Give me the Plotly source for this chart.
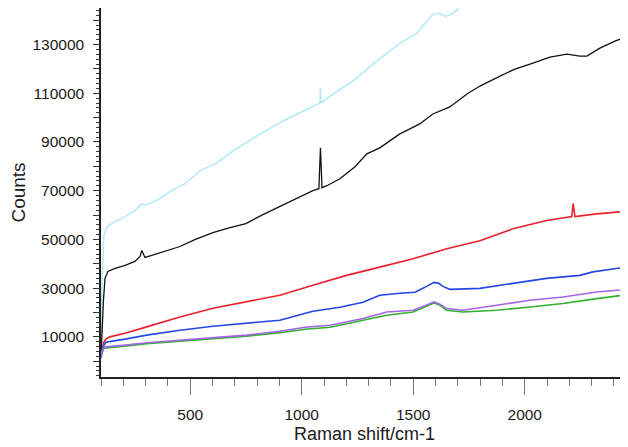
import plotly.graph_objects as go

# Raman shift (cm-1) and counts
black_x = [100, 104.5, 111, 118, 131, 163, 208, 252, 275, 283, 297, 342, 387, 454, 521, 602, 678, 750, 826, 902, 961, 1015, 1050, 1077, 1084, 1091, 1113, 1171, 1239, 1292, 1350, 1395, 1440, 1485, 1529, 1588, 1664, 1741, 1799, 1889, 1956, 2037, 2113, 2189, 2247, 2279, 2337, 2404, 2463]
black_y = [1700, 12740, 25010, 34010, 36870, 38100, 39320, 40960, 43010, 45460, 42600, 43820, 45050, 47090, 49950, 52820, 54870, 56500, 60180, 63450, 65910, 68360, 70000, 70820, 87590, 71230, 72050, 74910, 79820, 85140, 87590, 90450, 93320, 95360, 97410, 101500, 104370, 109690, 112960, 117050, 119920, 122370, 124830, 126060, 125240, 125240, 128510, 131380, 133420]

cyan_x = [100, 104.5, 113, 127, 163, 208, 252, 283, 297, 364, 409, 477, 544, 620, 692, 799, 916, 992, 1082, 1084, 1086, 1140, 1230, 1319, 1382, 1440, 1516, 1552, 1588, 1619, 1642, 1678, 1705]
cyan_y = [6610, 33200, 51600, 55300, 57300, 59360, 61820, 64680, 63860, 66730, 69590, 72860, 78180, 81450, 86360, 92500, 98630, 101900, 105990, 112130, 105990, 109670, 114990, 121940, 126440, 130530, 134620, 138710, 142390, 142800, 141570, 142800, 144850]

red_x = [100, 104.5, 113, 122, 140, 208, 305, 454, 602, 753, 902, 1050, 1201, 1350, 1499, 1650, 1799, 1947, 2098, 2211, 2217, 2225, 2322, 2463]
red_y = [1290, 4560, 7840, 9060, 10000, 11510, 14090, 18180, 21740, 24320, 27060, 31150, 35240, 38630, 42070, 46160, 49460, 54340, 57740, 59380, 64690, 59380, 60470, 61620]

blue_x = [100, 109, 122, 140, 208, 305, 454, 602, 753, 902, 1050, 1171, 1275, 1350, 1440, 1508, 1552, 1593, 1615, 1633, 1664, 1799, 1947, 2098, 2247, 2305, 2463]
blue_y = [2510, 5780, 7830, 8040, 9060, 10700, 12740, 14380, 15460, 16830, 20510, 22140, 24190, 27050, 27870, 28280, 30330, 32370, 31960, 30730, 29500, 29920, 31960, 34010, 35240, 36670, 38710]

purple_x = [100, 104.5, 113, 140, 208, 305, 454, 602, 753, 902, 1015, 1127, 1275, 1381, 1499, 1552, 1593, 1620, 1650, 1723, 1874, 2024, 2172, 2322, 2463]
purple_y = [1290, 3740, 5790, 5990, 6600, 7550, 8650, 9750, 10700, 12330, 13970, 14790, 17530, 20230, 20920, 22760, 24320, 23380, 21620, 20920, 22970, 25010, 26360, 28410, 29510]

green_x = [100, 104.5, 113, 140, 208, 305, 454, 602, 753, 902, 1015, 1127, 1275, 1381, 1499, 1552, 1593, 1620, 1650, 1723, 1874, 2024, 2172, 2322, 2463]
green_y = [1290, 3330, 5380, 5580, 6190, 7220, 8240, 9260, 10290, 11720, 13150, 13970, 16830, 18880, 20230, 22350, 23910, 22970, 20920, 20230, 20920, 22270, 23660, 25710, 27340]

y_tickvals = [0, 10000, 20000, 30000, 40000, 50000, 60000, 70000, 80000, 90000, 100000, 110000, 120000, 130000, 140000]
y_ticktext = ["", "10000", "", "30000", "", "50000", "", "70000", "", "90000", "", "110000", "", "130000", ""]
x_tickvals = [500, 1000, 1500, 2000]
x_ticktext = ["500", "1000", "1500", "2000"]

series = [
    (cyan_x, cyan_y, "#aeeaf7", 1.5),
    (black_x, black_y, "#111111", 1.3),
    (red_x, red_y, "#e8202c", 1.6),
    (blue_x, blue_y, "#2447e0", 1.6),
    (green_x, green_y, "#33b02e", 1.6),
    (purple_x, purple_y, "#a465e6", 1.6),
]

fig = go.Figure()
for xs, ys, col, w in series:
    fig.add_trace(go.Scatter(x=xs, y=ys, mode="lines",
                             line=dict(color=col, width=w), showlegend=False,
                             hoverinfo="skip"))

font = "Liberation Sans, Arial, sans-serif"
fig.update_layout(
    width=628, height=447,
    # page body has an 8px margin; margins compensate so the plot area sits at 101..628 x 7..377
    margin=dict(l=93, r=8, t=0, b=78),
    paper_bgcolor="white", plot_bgcolor="white",
    font=dict(family=font, color="#1a1a1a"),
    xaxis=dict(
        range=[100, 2463], showgrid=False, zeroline=False, automargin=False,
        showline=True, linecolor="#222222", linewidth=2,
        tickmode="array", tickvals=x_tickvals, ticktext=x_ticktext,
        ticks="outside", ticklen=16, tickwidth=1, tickcolor="#777777",
        ticklabelstandoff=6,
        tickfont=dict(size=15.5, family=font, color="#1a1a1a"),
        minor=dict(dtick=100, tick0=0, ticks="outside", ticklen=7,
                   tickwidth=1, tickcolor="#777777"),
        title=dict(text="Raman shift/cm-1", font=dict(size=18, family=font, color="#1a1a1a"),
                   standoff=6),
    ),
    yaxis=dict(
        range=[-6480, 145000], showgrid=False, zeroline=False, automargin=False,
        showline=True, linecolor="#222222", linewidth=1.5,
        tickmode="array", tickvals=y_tickvals, ticktext=y_ticktext,
        ticks="outside", ticklen=6, tickwidth=1, tickcolor="#333333",
        ticklabelstandoff=6,
        tickfont=dict(size=15.5, family=font, color="#1a1a1a"),
        minor=dict(dtick=2000, tick0=0, ticks="outside", ticklen=3,
                   tickwidth=1, tickcolor="#333333"),
        title=dict(text="Counts", font=dict(size=19, family=font, color="#1a1a1a"),
                   standoff=12),
    ),
)

fig.write_html("out.html")
